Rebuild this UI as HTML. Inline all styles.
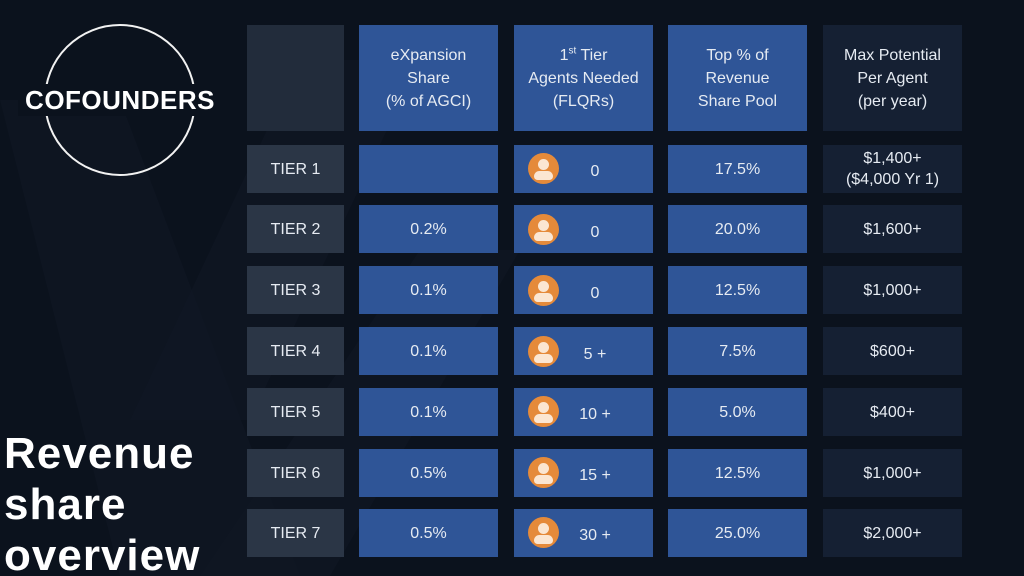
<!DOCTYPE html>
<html><head><meta charset="utf-8"><style>
*{margin:0;padding:0;box-sizing:border-box}
html,body{width:1024px;height:576px;overflow:hidden}
body{background:#0b121d;position:relative;font-family:"Liberation Sans",sans-serif}
.c{position:absolute;display:flex;align-items:center;justify-content:center;text-align:center;color:#e6ebf2;font-size:16px;line-height:23px}
.t{background:#2b3646;left:247px;width:97px}
.b{background:#2f5597}
.d{background:#152033}
.i{position:absolute;width:31px;height:31px;border-radius:50%;background:#e58a3a;overflow:hidden}
.i:before{content:"";position:absolute;left:10px;top:6px;width:11px;height:11px;border-radius:50%;background:#fbe6d2}
.i:after{content:"";position:absolute;left:6px;top:18px;width:19px;height:9px;border-radius:6px 6px 4px 4px;background:#fbe6d2}
.n{position:absolute;left:560px;width:70px;text-align:center;color:#e6ebf2;font-size:16px;line-height:23px;margin-top:3px}
</style></head><body>
<svg width="1024" height="576" style="position:absolute;left:0;top:0">
<polygon points="0,100 120,100 300,576 120,576" fill="#0f1723" opacity="0.8"/>
<polygon points="300,60 420,60 250,420 130,420" fill="#101825" opacity="0.6"/>
<polygon points="200,576 420,250 520,250 330,576" fill="#0f1723" opacity="0.7"/>
</svg>
<div style="position:absolute;left:44px;top:24px;width:152px;height:152px;border:2px solid #f2f2f2;border-radius:50%"></div>
<div style="position:absolute;left:18px;top:84px;width:204px;text-align:center;color:#fff;font-weight:bold;font-size:26px;letter-spacing:0.5px;background:#0b121d;line-height:32px">COFOUNDERS</div>
<div style="position:absolute;left:4px;top:428px;color:#fff;font-weight:bold;font-size:44px;letter-spacing:1px;line-height:51px">Revenue<br>share<br>overview</div>

<div class="c" style="left:247px;top:25px;width:97px;height:106px;background:#222c3b"></div>
<div class="c b" style="left:359px;top:25px;width:139px;height:106px"><div>eXpansion<br>Share<br>(% of AGCI)</div></div>
<div class="c b" style="left:514px;top:25px;width:139px;height:106px"><div>1<sup style="font-size:10px;line-height:0">st</sup> Tier<br>Agents Needed<br>(FLQRs)</div></div>
<div class="c b" style="left:668px;top:25px;width:139px;height:106px"><div>Top % of<br>Revenue<br>Share Pool</div></div>
<div class="c d" style="left:823px;top:25px;width:139px;height:106px"><div>Max Potential<br>Per Agent<br>(per year)</div></div>

<div class="c t" style="top:145px;height:48px">TIER 1</div>
<div class="c b" style="left:359px;top:145px;width:139px;height:48px"></div>
<div class="c b" style="left:514px;top:145px;width:139px;height:48px"></div>
<div class="i" style="left:528px;top:153px"></div><div class="n" style="top:157px">0</div>
<div class="c b" style="left:668px;top:145px;width:139px;height:48px">17.5%</div>
<div class="c d" style="left:823px;top:145px;width:139px;height:48px;line-height:21px"><div>$1,400+<br>($4,000 Yr 1)</div></div>

<div class="c t" style="top:205px;height:48px">TIER 2</div>
<div class="c b" style="left:359px;top:205px;width:139px;height:48px">0.2%</div>
<div class="c b" style="left:514px;top:205px;width:139px;height:48px"></div>
<div class="i" style="left:528px;top:214px"></div><div class="n" style="top:218px">0</div>
<div class="c b" style="left:668px;top:205px;width:139px;height:48px">20.0%</div>
<div class="c d" style="left:823px;top:205px;width:139px;height:48px">$1,600+</div>

<div class="c t" style="top:266px;height:48px">TIER 3</div>
<div class="c b" style="left:359px;top:266px;width:139px;height:48px">0.1%</div>
<div class="c b" style="left:514px;top:266px;width:139px;height:48px"></div>
<div class="i" style="left:528px;top:275px"></div><div class="n" style="top:279px">0</div>
<div class="c b" style="left:668px;top:266px;width:139px;height:48px">12.5%</div>
<div class="c d" style="left:823px;top:266px;width:139px;height:48px">$1,000+</div>

<div class="c t" style="top:327px;height:48px">TIER 4</div>
<div class="c b" style="left:359px;top:327px;width:139px;height:48px">0.1%</div>
<div class="c b" style="left:514px;top:327px;width:139px;height:48px"></div>
<div class="i" style="left:528px;top:336px"></div><div class="n" style="top:340px">5 +</div>
<div class="c b" style="left:668px;top:327px;width:139px;height:48px">7.5%</div>
<div class="c d" style="left:823px;top:327px;width:139px;height:48px">$600+</div>

<div class="c t" style="top:388px;height:48px">TIER 5</div>
<div class="c b" style="left:359px;top:388px;width:139px;height:48px">0.1%</div>
<div class="c b" style="left:514px;top:388px;width:139px;height:48px"></div>
<div class="i" style="left:528px;top:396px"></div><div class="n" style="top:400px">10 +</div>
<div class="c b" style="left:668px;top:388px;width:139px;height:48px">5.0%</div>
<div class="c d" style="left:823px;top:388px;width:139px;height:48px">$400+</div>

<div class="c t" style="top:449px;height:48px">TIER 6</div>
<div class="c b" style="left:359px;top:449px;width:139px;height:48px">0.5%</div>
<div class="c b" style="left:514px;top:449px;width:139px;height:48px"></div>
<div class="i" style="left:528px;top:457px"></div><div class="n" style="top:461px">15 +</div>
<div class="c b" style="left:668px;top:449px;width:139px;height:48px">12.5%</div>
<div class="c d" style="left:823px;top:449px;width:139px;height:48px">$1,000+</div>

<div class="c t" style="top:509px;height:48px">TIER 7</div>
<div class="c b" style="left:359px;top:509px;width:139px;height:48px">0.5%</div>
<div class="c b" style="left:514px;top:509px;width:139px;height:48px"></div>
<div class="i" style="left:528px;top:517px"></div><div class="n" style="top:521px">30 +</div>
<div class="c b" style="left:668px;top:509px;width:139px;height:48px">25.0%</div>
<div class="c d" style="left:823px;top:509px;width:139px;height:48px">$2,000+</div>
</body></html>
